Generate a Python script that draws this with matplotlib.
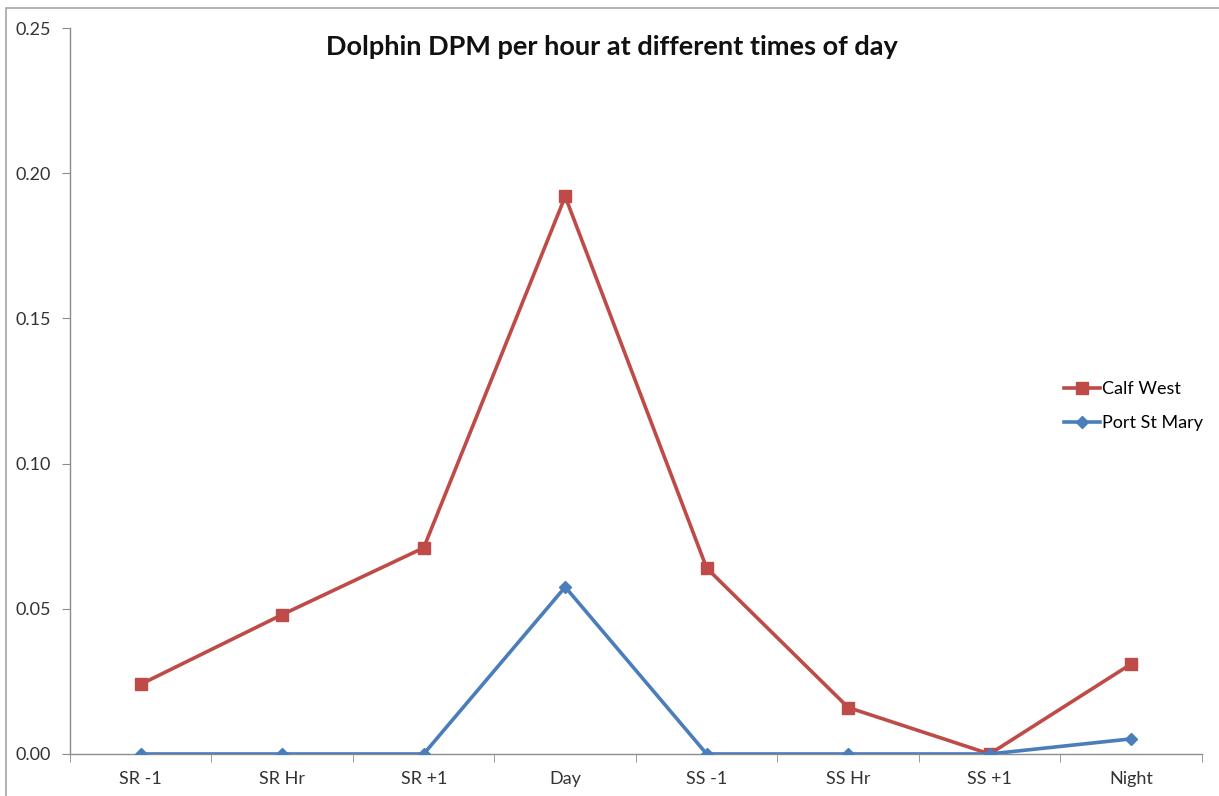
import numpy as np
import matplotlib
matplotlib.use("Agg")
import matplotlib.pyplot as plt
from matplotlib.patches import Rectangle
from matplotlib.ticker import FormatStrFormatter

# time-of-day bins and detection-positive minutes per hour
periods = ["SR -1", "SR Hr", "SR +1", "Day", "SS -1", "SS Hr", "SS +1", "Night"]
calf_west = [0.024, 0.048, 0.071, 0.192, 0.064, 0.016, 0.0, 0.031]
port_st_mary = [0.0, 0.0, 0.0, 0.0575, 0.0, 0.0, 0.0, 0.0052]
y_ticks = [0.00, 0.05, 0.10, 0.15, 0.20, 0.25]

plt.rcParams['font.family'] = ['Lato', 'DejaVu Sans']

fig = plt.figure(figsize=(12.19, 7.96), dpi=100)
ax = fig.add_axes([0.0574, 0.0528, 0.9286, 0.912])

# outer chart frame
fig.patches.append(Rectangle((0.005, -0.01), 1.2, 1.0, transform=fig.transFigure,
                             fill=False, edgecolor='#a6a6a6', linewidth=1.2))

x = np.arange(len(periods))
ax.plot(x, calf_west, color='#be4b48', linewidth=2.6, marker='s', markersize=9,
        label='Calf West', zorder=3)
ax.plot(x, port_st_mary, color='#4a7ebb', linewidth=2.6, marker='D', markersize=6,
        label='Port St Mary', zorder=3)

ax.set_xlim(-0.5, len(periods) - 0.5)
ax.set_ylim(0, 0.25)
ax.set_yticks(y_ticks)
ax.yaxis.set_major_formatter(FormatStrFormatter('%.2f'))
ax.set_xticks(x)
ax.set_xticklabels(periods)
ax.set_xticks(np.arange(-0.5, len(periods)), minor=True)
ax.tick_params(axis='x', which='major', length=0, pad=12, labelsize=13, colors='#333333')
ax.tick_params(axis='x', which='minor', length=6, direction='out', color='#8c8c8c')
ax.tick_params(axis='y', length=6, direction='out', color='#8c8c8c', labelsize=13,
               labelcolor='#333333', pad=8)

for side in ['top', 'right']:
    ax.spines[side].set_visible(False)
for side in ['left', 'bottom']:
    ax.spines[side].set_color('#8c8c8c')
    ax.spines[side].set_linewidth(1.0)

ax.set_title('Dolphin DPM per hour at different times of day', fontsize=19.5,
             fontweight='bold', x=0.479, y=0.952, color='#111111')

ax.legend(loc='center left', bbox_to_anchor=(0.864, 0.479), frameon=False,
          fontsize=13, handlelength=2.0, handletextpad=0.1, labelspacing=1.0)

fig.savefig('out.png', dpi=100)
